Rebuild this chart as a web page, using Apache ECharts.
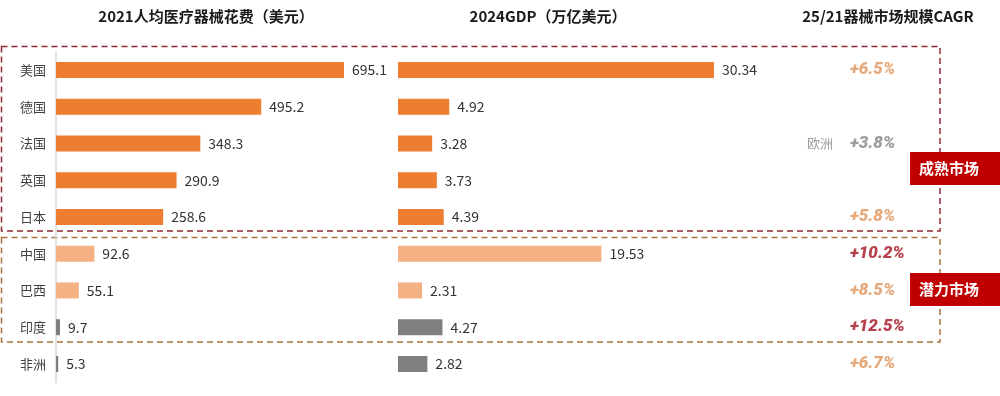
<!DOCTYPE html>
<html><head><meta charset="utf-8">
<script src="https://cdn.jsdelivr.net/npm/echarts@6/dist/echarts.min.js"></script>
<style>html,body{margin:0;padding:0;background:#fff}#c{width:1000px;height:396px}</style>
</head><body><div id="c"></div>
<script>
const categories = ['美国','德国','法国','英国','日本','中国','巴西','印度','非洲'];
const spendPerCapita = [695.1, 495.2, 348.3, 290.9, 258.6, 92.6, 55.1, 9.7, 5.3];
const gdp2024 = [30.34, 4.92, 3.28, 3.73, 4.39, 19.53, 2.31, 4.27, 2.82];
const marketGroup = ['mature','mature','mature','mature','mature','potential','potential','other','other'];
const cagr = [6.5, null, 3.8, null, 5.8, 10.2, 8.5, 12.5, 6.7];
const cagrTone = ['light', null, 'gray', null, 'light', 'dark', 'light', 'dark', 'light'];
const regionLabels = ['', '', '欧洲', '', '', '', '', '', ''];
const titles = ['2021人均医疗器械花费（美元）', '2024GDP（万亿美元）', '25/21器械市场规模CAGR'];
const tags = ['成熟市场', '潜力市场'];

const barColor = {mature:'#ED7D31', potential:'#F4B183', other:'#7F7F7F'};
const toneColor = {light:'#E0945B', gray:'#858585', dark:'#A5121E'};
const FONT = '"Noto Sans CJK SC", "Noto Sans", sans-serif';

const chart = echarts.init(document.getElementById('c'), null, {renderer:'canvas'});
const gridTop = 51.6, gridH = 330.75;
const yBase = {type:'category', data:categories, inverse:true};

function barData(vals){
  return vals.map((v,i)=>({value:v, itemStyle:{color:barColor[marketGroup[i]]}}));
}

chart.setOption({
  animation:false,
  textStyle:{fontFamily:FONT},
  grid:[
    {left:56, top:gridTop, width:331.5, height:gridH},
    {left:398, top:gridTop, width:416.6, height:gridH},
    {left:850, top:gridTop, width:50, height:gridH}
  ],
  xAxis:[
    {gridIndex:0, type:'value', min:0, max:800, show:false},
    {gridIndex:1, type:'value', min:0, max:40, show:false},
    {gridIndex:2, type:'value', min:0, max:1, show:false}
  ],
  yAxis:[
    Object.assign({gridIndex:0, axisLine:{show:true, lineStyle:{color:'#D9D9D9', width:1.5}},
      axisTick:{show:false}, axisLabel:{color:'#404040', fontSize:13, margin:10, fontFamily:FONT}}, yBase),
    Object.assign({gridIndex:1, show:false}, yBase),
    Object.assign({gridIndex:2, show:false}, yBase)
  ],
  series:[
    {type:'bar', xAxisIndex:0, yAxisIndex:0, barWidth:16, data:barData(spendPerCapita),
     label:{show:true, position:'right', distance:8, color:'#333', fontSize:14, fontFamily:FONT}},
    {type:'bar', xAxisIndex:1, yAxisIndex:1, barWidth:16, data:barData(gdp2024),
     label:{show:true, position:'right', distance:8, color:'#333', fontSize:14, fontFamily:FONT,
       formatter:p=>p.value.toFixed(2)}},
    {type:'scatter', xAxisIndex:2, yAxisIndex:2, symbolSize:0.01, clip:false,
     data:cagr.map((v,i)=>v==null?null:{value:[0,i], cagr:v,
        label:{color:toneColor[cagrTone[i]]}}).filter(d=>d),
     label:{show:true, position:'right', distance:0, fontSize:17, fontWeight:900, fontStyle:'italic',
       fontFamily:'Roboto, "Liberation Sans", Arial, sans-serif',
       formatter:p=>'+'+p.data.cagr.toFixed(1)+'%'}},
    {type:'scatter', xAxisIndex:2, yAxisIndex:2, symbolSize:0.01, clip:false,
     data:regionLabels.map((t,i)=>t?{value:[0,i], name:t}:null).filter(d=>d),
     label:{show:true, position:'left', distance:17, color:'#858585', fontSize:13, fontFamily:FONT,
       formatter:p=>p.name}}
  ],
  graphic:[
    {type:'text', x:206, y:16, style:{text:titles[0], textAlign:'center', textVerticalAlign:'middle', fill:'#1a1a1a', font:'bold 15px '+FONT}},
    {type:'text', x:548, y:16, style:{text:titles[1], textAlign:'center', textVerticalAlign:'middle', fill:'#1a1a1a', font:'bold 15px '+FONT}},
    {type:'text', x:888, y:16, style:{text:titles[2], textAlign:'center', textVerticalAlign:'middle', fill:'#1a1a1a', font:'bold 15px '+FONT}},
    {type:'rect', shape:{x:1.5, y:46.5, width:938.5, height:184.5}, style:{fill:'none', stroke:'#8E2A35', lineWidth:1.5, lineDash:[6,4]}},
    {type:'rect', shape:{x:1.5, y:237.5, width:938.5, height:104.5}, style:{fill:'none', stroke:'#A8733F', lineWidth:1.5, lineDash:[6,4]}},
    {type:'rect', shape:{x:910, y:152, width:90, height:33}, style:{fill:'#C00000'}},
    {type:'text', x:919, y:168.5, style:{text:tags[0], textVerticalAlign:'middle', fill:'#fff', font:'bold 15px '+FONT}},
    {type:'rect', shape:{x:910, y:273, width:90, height:33}, style:{fill:'#C00000'}},
    {type:'text', x:919, y:289.5, style:{text:tags[1], textVerticalAlign:'middle', fill:'#fff', font:'bold 15px '+FONT}}
  ]
});
</script></body></html>
